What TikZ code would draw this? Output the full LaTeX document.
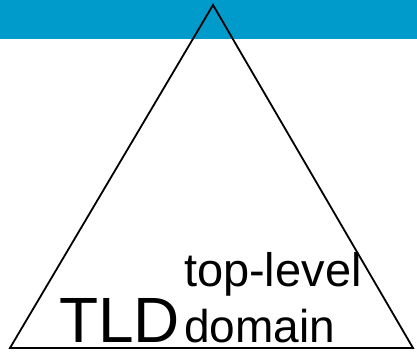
\documentclass[tikz,border=0pt]{standalone}
\usepackage{fontspec}
\setmainfont{Liberation Sans}
\definecolor{band}{HTML}{009BCB}
\begin{document}
\begin{tikzpicture}[x=1pt,y=1pt,
  lbl/.style={anchor=base west,inner sep=0pt,outer sep=0pt},
  tri/.style={draw=black,line width=1.8pt,line join=miter}]
\useasboundingbox (0,0) rectangle (417,352);
\fill[band] (0,313) rectangle (417,352);
\coordinate (apex) at (213,347);
\coordinate (bl) at (10,4);
\coordinate (br) at (413,4);
\draw[tri] (apex) -- (br) -- (bl) -- cycle;
\node[lbl,font=\fontsize{64}{64}\selectfont] (tld) at (59,9) {TLD};
\node[lbl,font=\fontsize{47}{47}\selectfont] (top) at (184,65) {top-level};
\node[lbl,font=\fontsize{46}{46}\selectfont] (dom) at (184,9) {domain};
\end{tikzpicture}
\end{document}
